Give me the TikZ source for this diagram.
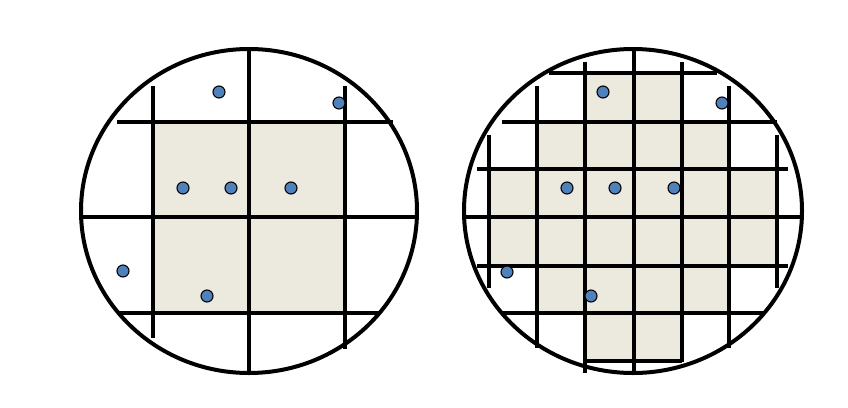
\documentclass[tikz,border=0pt]{standalone}
\begin{document}
\begin{tikzpicture}[x=1pt,y=-1pt,
  gridline/.style={line width=4pt,black},
  rim/.style={line width=4pt,black},
  cellfill/.style={fill=cellcol},
  dot/.style={circle,draw=black,line width=1.1pt,fill=dotcol,minimum size=12pt,inner sep=0pt}]
\definecolor{cellcol}{HTML}{ECEADF}
\definecolor{dotcol}{HTML}{4F81BD}
\useasboundingbox[fill=white] (0,0) rectangle (848,407);
% ---------- left wafer ----------
\fill[cellfill] (153,122) rectangle (345,313);
\draw[gridline] (153,86) -- (153,338);
\draw[gridline] (249,49) -- (249,373);
\draw[gridline] (345,86) -- (345,349);
\draw[gridline] (117,122) -- (393,122);
\draw[gridline] (81,217) -- (417,217);
\draw[gridline] (119,313) -- (379,313);
\draw[rim] (249,211) ellipse [x radius=168, y radius=162];
\node[dot] (l1) at (219,92) {};
\node[dot] (l2) at (339,103) {};
\node[dot] (l3) at (183,188) {};
\node[dot] (l4) at (231,188) {};
\node[dot] (l5) at (291,188) {};
\node[dot] (l6) at (123,271) {};
\node[dot] (l7) at (207,296) {};
% ---------- right wafer ----------
\fill[cellfill] (585,73) rectangle (682,122);
\fill[cellfill] (537,122) rectangle (729,169);
\fill[cellfill] (489,169) rectangle (777,266);
\fill[cellfill] (537,266) rectangle (729,313);
\fill[cellfill] (585,313) rectangle (682,361);
\draw[gridline] (489,135) -- (489,288);
\draw[gridline] (537,86) -- (537,348);
\draw[gridline] (585,62) -- (585,373);
\draw[gridline] (634,49) -- (634,373);
\draw[gridline] (682,62) -- (682,362);
\draw[gridline] (729,86) -- (729,348);
\draw[gridline] (777,135) -- (777,288);
\draw[gridline] (549,73) -- (717,73);
\draw[gridline] (502,122) -- (777,122);
\draw[gridline] (477,169) -- (788,169);
\draw[gridline] (463,217) -- (803,217);
\draw[gridline] (477,266) -- (788,266);
\draw[gridline] (502,313) -- (763,313);
\draw[gridline] (585,361) -- (682,361);
\draw[rim] (633,211) ellipse [x radius=169, y radius=162];
\node[dot] (r1) at (603,92) {};
\node[dot] (r2) at (722,103) {};
\node[dot] (r3) at (567,188) {};
\node[dot] (r4) at (615,188) {};
\node[dot] (r5) at (674,188) {};
\node[dot] (r6) at (507,272) {};
\node[dot] (r7) at (591,296) {};
\end{tikzpicture}
\end{document}
